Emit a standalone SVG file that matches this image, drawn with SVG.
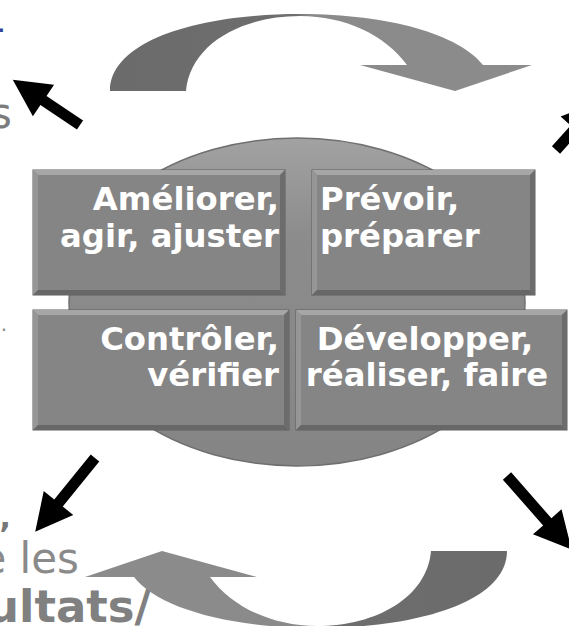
<svg xmlns="http://www.w3.org/2000/svg" width="569" height="626" viewBox="0 0 569 626">
<defs>
<style>
.bt{font-family:"DejaVu Sans",Verdana,sans-serif;font-weight:bold;font-size:32.3px;fill:#ffffff}
.frag{font-family:"DejaVu Sans",Verdana,sans-serif;font-size:42px;fill:#8a8a8a}
.box{fill:#858585;stroke:#5e5e5e;stroke-width:1}
.bvT{fill:#a6a6a6}
.bvL{fill:#969696}
.bvR{fill:#6c6c6c}
.bvB{fill:#676767}
.blk{fill:#000000}
</style>
<linearGradient id="arrowGrad" gradientUnits="userSpaceOnUse" x1="110" y1="0" x2="532" y2="0">
<stop offset="0" stop-color="#6b6b6b"/>
<stop offset="0.44" stop-color="#6e6e6e"/>
<stop offset="0.47" stop-color="#8a8a8a"/>
<stop offset="1" stop-color="#8c8c8c"/>
</linearGradient>
<linearGradient id="ellGrad" x1="0" y1="0" x2="0" y2="1">
<stop offset="0" stop-color="#a2a2a2"/>
<stop offset="0.3" stop-color="#8c8c8c"/>
<stop offset="1" stop-color="#858585"/>
</linearGradient>
<path id="curvedArrow" d="M110,91 C110,40 200,14 300,14 C390,14 460,35 483,65 L532,65 L455,91 L360,65 L407,65 C385,35 345,16 300,16 C240,16 190,45 186,91 Z"/>
</defs>

<g id="text-fragments">
<text class="frag" x="5" y="42" text-anchor="end" style="fill:#34449c">-</text>
<text class="frag" x="12" y="128" text-anchor="end" style="fill:#7c7c7c">s</text>
<text class="frag" x="7" y="331" text-anchor="end" style="font-size:20px;fill:#888">.</text>
<text class="frag" x="11" y="528" text-anchor="end" style="font-weight:bold;font-size:30px;fill:#777">,</text>
<text class="frag" x="79" y="573" text-anchor="end">e les</text>
<text class="frag" x="151" y="622" text-anchor="end" style="font-weight:bold;font-size:45px;fill:#808080">ultats/</text>
</g>

<g id="cycle-arrows">
<use href="#curvedArrow" fill="url(#arrowGrad)"/>
<use href="#curvedArrow" fill="url(#arrowGrad)" transform="rotate(180 308.5 321)"/>
</g>

<g id="center-ellipse">
<ellipse cx="297" cy="302" rx="228" ry="164" fill="url(#ellGrad)" stroke="#6f6f6f" stroke-width="1.5"/>
</g>

<g id="box-ameliorer">
<rect class="box" x="33" y="170" width="252" height="125"/>
<polygon class="bvT" points="33,170 285,170 280,175 38,175"/>
<polygon class="bvL" points="33,170 38,175 38,290 33,295"/>
<polygon class="bvR" points="285,170 285,295 280,290 280,175"/>
<polygon class="bvB" points="33,295 285,295 280,290 38,290"/>
<text class="bt" x="279" y="210" text-anchor="end">Améliorer,</text>
<text class="bt" x="279" y="247" text-anchor="end">agir, ajuster</text>
</g>

<g id="box-prevoir">
<rect class="box" x="312" y="170" width="223" height="125"/>
<polygon class="bvT" points="312,170 535,170 530,175 317,175"/>
<polygon class="bvL" points="312,170 317,175 317,290 312,295"/>
<polygon class="bvR" points="535,170 535,295 530,290 530,175"/>
<polygon class="bvB" points="312,295 535,295 530,290 317,290"/>
<text class="bt" x="320" y="210">Prévoir,</text>
<text class="bt" x="320" y="247">préparer</text>
</g>

<g id="box-controler">
<rect class="box" x="33" y="310" width="256" height="120"/>
<polygon class="bvT" points="33,310 289,310 284,315 38,315"/>
<polygon class="bvL" points="33,310 38,315 38,425 33,430"/>
<polygon class="bvR" points="289,310 289,430 284,425 284,315"/>
<polygon class="bvB" points="33,430 289,430 284,425 38,425"/>
<text class="bt" x="279" y="350" text-anchor="end">Contrôler,</text>
<text class="bt" x="279" y="386" text-anchor="end">vérifier</text>
</g>

<g id="box-developper">
<rect class="box" x="296" y="310" width="271" height="120"/>
<polygon class="bvT" points="296,310 567,310 562,315 301,315"/>
<polygon class="bvL" points="296,310 301,315 301,425 296,430"/>
<polygon class="bvR" points="567,310 567,430 562,425 562,315"/>
<polygon class="bvB" points="296,430 567,430 562,425 301,425"/>
<text class="bt" x="425" y="350" text-anchor="middle">Développer,</text>
<text class="bt" x="427" y="386" text-anchor="middle">réaliser, faire</text>
</g>

<g id="pointer-arrows">
<path class="blk" d="M0,-5.5 H44 V-19 L81,0 L44,19 V5.5 H0 Z" transform="translate(80,125) rotate(-146.1)"/>
<path class="blk" d="M0,-5.5 H28 V-19 L65,0 L28,19 V5.5 H0 Z" transform="translate(556,150) rotate(-48)"/>
<path class="blk" d="M0,-5.5 H58 V-19 L95,0 L58,19 V5.5 H0 Z" transform="translate(95,458) rotate(129)"/>
<path class="blk" d="M0,-5.5 H61 V-19 L98,0 L61,19 V5.5 H0 Z" transform="translate(507,476) rotate(48.7)"/>
</g>
</svg>
